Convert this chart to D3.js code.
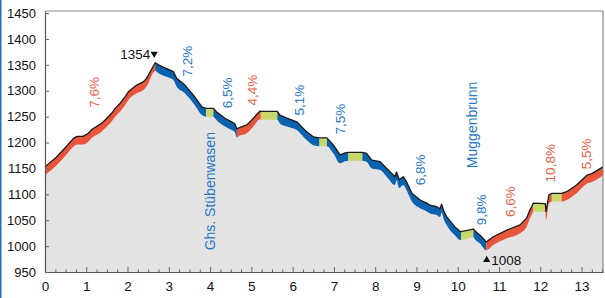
<!DOCTYPE html>
<html>
<head>
<meta charset="utf-8">
<script src="https://cdn.jsdelivr.net/npm/d3@7"></script>
<style>
  body { margin: 0; background: #fff; }
  svg { display: block; font-family: "Liberation Sans", Arial, sans-serif; }
</style>
</head>
<body>
<svg id="plot"></svg>
<script>
// profile: distance (km) and elevation (m)
const km   = [0.00, 0.28, 0.48, 0.69, 0.78, 0.92, 1.05, 1.12, 1.17, 1.37, 1.45, 1.61, 1.70, 1.82, 1.94, 2.02, 2.22, 2.38, 2.46, 2.67,
              2.75, 2.91, 3.11, 3.19, 3.39, 3.63, 3.80, 3.90, 4.08, 4.16, 4.36, 4.52, 4.60, 4.65,
              4.71, 4.89, 5.05, 5.21, 5.23, 5.63, 5.69, 5.86, 6.10, 6.30, 6.34, 6.50, 6.65, 6.83, 6.99, 7.15, 7.27, 7.35, 7.69,
              7.79, 7.92, 8.12, 8.28, 8.48, 8.52, 8.58, 8.68, 8.76, 8.89, 9.09, 9.25, 9.33, 9.49, 9.57, 9.61, 9.67, 9.73, 9.93,
              10.06, 10.08, 10.38, 10.42, 10.54, 10.69,
              10.86, 11.19, 11.51, 11.67, 11.75, 11.79, 11.83, 12.12, 12.14, 12.21, 12.28, 12.52, 12.64, 12.88, 13.13, 13.25, 13.52];
const elev = [1153, 1172, 1189, 1208, 1212, 1212, 1218, 1224, 1227, 1237, 1243, 1256, 1266, 1276, 1288, 1298, 1311, 1317, 1324, 1354,
              1350, 1344, 1337, 1324, 1311, 1288, 1269, 1266, 1266, 1259, 1247, 1240, 1236, 1226,
              1229, 1234, 1247, 1261, 1260, 1260, 1253, 1247, 1240, 1224, 1221, 1211, 1209, 1209, 1195, 1176, 1180, 1181, 1181,
              1179, 1166, 1163, 1150, 1134, 1143, 1128, 1134, 1124, 1102, 1089, 1083, 1079, 1076, 1072, 1081, 1066, 1057, 1037,
              1028, 1028, 1033, 1029, 1021, 1008,
              1018, 1031, 1041, 1054, 1070, 1076, 1083, 1082, 1067, 1099, 1102, 1102, 1105, 1118, 1137, 1140, 1153];

// gradient sections
const segFrom = [0.00, 2.67, 3.90, 4.08, 4.65, 5.23, 5.63, 6.65, 6.83, 7.35, 7.69, 10.08, 10.38, 10.69, 11.83, 12.12, 12.28, 12.52];
const segTo   = [2.67, 3.90, 4.08, 4.65, 5.23, 5.63, 6.65, 6.83, 7.35, 7.69, 10.08, 10.38, 10.69, 11.83, 12.12, 12.28, 12.52, 13.52];
const segKind = ["up", "down", "flat", "down", "up", "flat", "down", "flat", "down", "flat", "down", "flat", "down", "up", "flat", "up", "flat", "up"];

// rotated labels
const labelText = ["7,6%", "7,2%", "Ghs. Stübenwasen", "6,5%", "4,4%", "5,1%", "7,5%", "Muggenbrunn", "6,8%", "9,8%", "6,6%", "10,8%", "5,5%"];
const labelKm   = [1.21, 3.45, 4.00, 4.43, 5.02, 6.17, 7.15, 10.35, 9.10, 10.58, 11.29, 12.25, 13.11];
const labelElev = [1297, 1357, 1106, 1296, 1301, 1282, 1245, 1234, 1147, 1070, 1086, 1160, 1178];
const labelKind = ["up", "down", "down", "down", "up", "down", "down", "down", "down", "down", "up", "up", "up"];

const xTicks = d3.range(0, 14);
const yTicks = d3.range(950, 1451, 50);

const fill = { up: "#e8553a", down: "#0b63b0", flat: "#c8d86a" };
const textColor = { up: "#ea6148", down: "#1f78c6" };

const margin = { top: 11, right: 2, bottom: 26, left: 45 },
  width = 605 - margin.left - margin.right,
  height = 298 - margin.top - margin.bottom;

const root = d3.select("#plot")
    .attr("width", width + margin.left + margin.right)
    .attr("height", height + margin.top + margin.bottom);

// blue edge on the left of the figure
root.append("rect")
    .attr("x", 0).attr("y", 0)
    .attr("width", 1.5).attr("height", 298)
    .attr("fill", "#1f6fb8");

const svg = root.append("g")
    .attr("transform", "translate(" + margin.left + "," + margin.top + ")");

const x = d3.scaleLinear().domain([0, 13.52]).range([0, width]);
const y = d3.scaleLinear().domain([950, 1454]).range([height, 0]);

const pts = km.map((k, i) => [k, elev[i]]);
const bandDepth = 16;

// grey terrain
svg.append("path")
    .datum(pts)
    .attr("fill", "#e4e3e3")
    .attr("d", d3.area().x(d => x(d[0])).y0(height).y1(d => y(d[1])));

// coloured band under the profile line
const upper = d3.line().x(d => x(d[0])).y(d => y(d[1]));
const lower = d3.line().x(d => x(d[0])).y(d => y(d[1] - bandDepth)).curve(d3.curveMonotoneX);
const bandPath = upper(pts) + lower(pts.slice().reverse()).replace(/^M/, "L") + "Z";

const defs = svg.append("defs");
segFrom.forEach((s, i) => {
  defs.append("clipPath").attr("id", "seg" + i)
    .append("rect")
      .attr("x", x(s)).attr("y", 0)
      .attr("width", x(segTo[i]) - x(s)).attr("height", height);
  svg.append("path")
      .attr("d", bandPath)
      .attr("fill", fill[segKind[i]])
      .attr("clip-path", "url(#seg" + i + ")");
});

// profile line
svg.append("path")
    .datum(pts)
    .attr("fill", "none")
    .attr("stroke", "#1a1a1a")
    .attr("stroke-width", 1.3)
    .attr("stroke-linejoin", "round")
    .attr("d", upper);

// frame top / right
svg.append("path")
    .attr("d", "M0,0H" + width + "V" + height)
    .attr("fill", "none")
    .attr("stroke", "#8a8a8a")
    .attr("stroke-width", 1.2);

// minor x ticks
svg.append("g")
    .attr("transform", "translate(0," + height + ")")
    .call(d3.axisBottom(x).tickValues(d3.range(0, 13.6, 0.25).filter(v => v % 1 !== 0))
      .tickSizeInner(-2.5).tickSizeOuter(0).tickFormat(""))
    .call(g => g.select(".domain").remove())
    .selectAll("line").attr("stroke", "#666");

// x axis
const xAxis = svg.append("g")
    .attr("transform", "translate(0," + height + ")")
    .call(d3.axisBottom(x).tickValues(xTicks).tickSizeInner(-5).tickSizeOuter(0).tickPadding(9));
xAxis.select(".domain").attr("stroke", "#555").attr("stroke-width", 1.2);
xAxis.selectAll("line").attr("stroke", "#666");
xAxis.selectAll("text").attr("font-size", 13.5).attr("fill", "#111")
    .attr("font-family", "Liberation Sans, Arial, sans-serif");

// y axis
const yAxis = svg.append("g")
    .call(d3.axisLeft(y).tickValues(yTicks).tickFormat(d3.format("d"))
      .tickSizeInner(-4).tickSizeOuter(0).tickPadding(9));
yAxis.select(".domain").attr("stroke", "#555").attr("stroke-width", 1.2);
yAxis.selectAll("line").attr("stroke", "#666");
yAxis.selectAll("text").attr("font-size", 13).attr("fill", "#111")
    .attr("font-family", "Liberation Sans, Arial, sans-serif");

// gradient and place labels
labelText.forEach((t, i) => {
  svg.append("text")
      .attr("transform", "translate(" + x(labelKm[i]) + "," + y(labelElev[i]) + ") rotate(-90)")
      .attr("text-anchor", "middle")
      .attr("dominant-baseline", "central")
      .attr("font-size", t.length > 6 ? 14 : 13.5)
      .attr("fill", textColor[labelKind[i]])
      .text(t);
});

// summit and low point
const iMax = elev.indexOf(d3.max(elev));
const iMin = elev.indexOf(d3.min(elev));
const tri = d3.symbol().type(d3.symbolTriangle).size(22);

svg.append("path")
    .attr("d", tri())
    .attr("transform", "translate(" + (x(km[iMax]) - 1) + "," + (y(elev[iMax]) - 9) + ") rotate(180)")
    .attr("fill", "#111");
svg.append("text")
    .attr("x", x(km[iMax]) - 5)
    .attr("y", y(elev[iMax]) - 4)
    .attr("text-anchor", "end")
    .attr("font-size", 13.5)
    .attr("fill", "#111")
    .text(elev[iMax]);

svg.append("path")
    .attr("d", tri())
    .attr("transform", "translate(" + (x(km[iMin]) + 0.5) + "," + (y(elev[iMin]) + 18) + ")")
    .attr("fill", "#111");
svg.append("text")
    .attr("x", x(km[iMin]) + 5)
    .attr("y", y(elev[iMin]) + 23)
    .attr("font-size", 13.5)
    .attr("fill", "#111")
    .text(elev[iMin]);
</script>
</body>
</html>
